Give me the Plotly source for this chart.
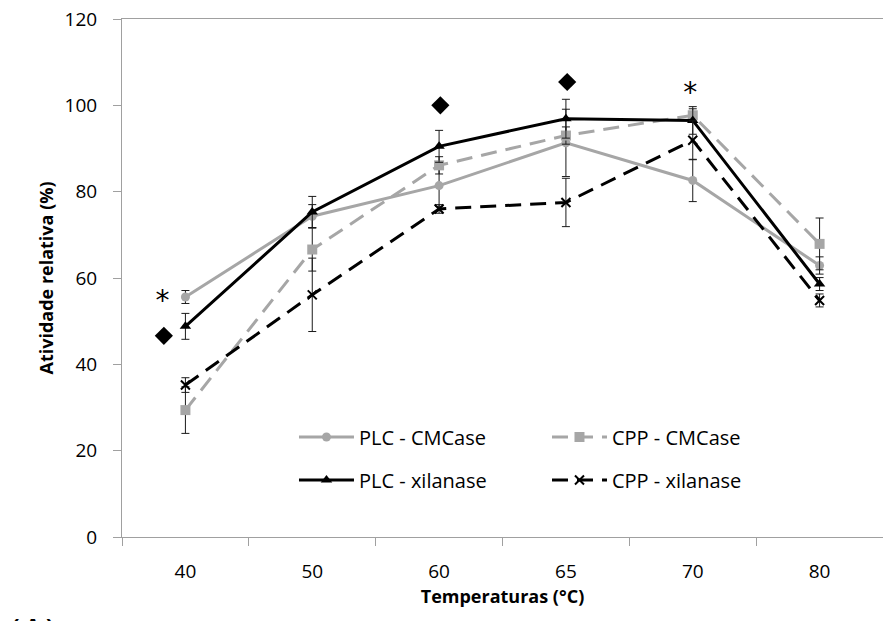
import plotly.graph_objects as go

# ---- data ----
temps = ["40", "50", "60", "65", "70", "80"]
plc_cmc = [55.6, 74.3, 81.4, 91.3, 82.6, 62.9]
plc_cmc_err = [1.5, 2.7, 4.8, 7.8, 4.9, 2.0]
cpp_cmc = [29.4, 66.6, 86.1, 93.0, 97.7, 67.9]
cpp_cmc_err = [5.4, 5.0, 2.0, 2.0, 1.5, 6.0]
plc_xil = [48.8, 75.3, 90.5, 96.9, 96.5, 58.6]
plc_xil_err = [3.0, 3.6, 3.7, 4.5, 3.2, 1.5]
cpp_xil = [35.2, 56.1, 76.0, 77.5, 91.9, 54.8]
cpp_xil_err = [1.7, 8.5, 1.0, 5.6, 4.5, 1.5]

# significance marks (category index position, value)
star_x = [-0.18, 3.98]
star_y = [54.3, 102.4]
diamond_x = [-0.17, 2.01, 3.01]
diamond_y = [46.6, 100.0, 105.4]

xi = list(range(len(temps)))
GRAY = "#A6A6A6"
FONT = "Open Sans"

fig = go.Figure()

def add(name, y, err, color, dash, symbol, msize, legend, mline=None):
    fig.add_trace(go.Scatter(
        x=xi, y=y, name=name, mode="lines+markers",
        line=dict(color=color, width=3, dash=dash),
        marker=dict(symbol=symbol, size=msize, color=color,
                    line=mline if mline else dict(width=0)),
        error_y=dict(type="data", array=err, visible=True,
                     color="#1a1a1a", thickness=1, width=4),
        legend=legend,
    ))

add("PLC - CMCase", plc_cmc, plc_cmc_err, GRAY, "solid", "circle", 9, "legend")
add("CPP - CMCase", cpp_cmc, cpp_cmc_err, GRAY, "16px,9px", "square", 10, "legend")
add("PLC - xilanase", plc_xil, plc_xil_err, "black", "solid", "triangle-up", 10, "legend2")
add("CPP - xilanase", cpp_xil, cpp_xil_err, "black", "16px,9px", "x-thin", 9, "legend2",
    mline=dict(color="black", width=2))

fig.add_trace(go.Scatter(
    x=star_x, y=star_y, mode="text", text=["*"] * len(star_x),
    textfont=dict(family="DejaVu Sans", size=28, color="black"),
    textposition="middle center", showlegend=False, hoverinfo="skip"))
fig.add_trace(go.Scatter(
    x=diamond_x, y=diamond_y, mode="markers",
    marker=dict(symbol="diamond", size=14, color="black"),
    showlegend=False, hoverinfo="skip"))

axis_color = "#A0A0A0"
fig.update_layout(
    width=883, height=621,
    margin=dict(l=122, r=0, t=19, b=84),
    paper_bgcolor="white", plot_bgcolor="white",
    font=dict(family=FONT, size=19, color="black"),
    xaxis=dict(
        range=[-0.5, 5.5], tickmode="array", tickvals=xi, ticktext=temps,
        ticks="", showgrid=False, zeroline=False,
        showline=True, linecolor=axis_color, linewidth=1, mirror=True,
        ticklabelstandoff=17,
        minor=dict(tickmode="array", tickvals=[i - 0.5 for i in range(len(temps) + 1)],
                   ticks="outside", ticklen=8, tickcolor=axis_color, tickwidth=1,
                   showgrid=False),
        title=dict(text="<b>Temperaturas (°C)</b>", font=dict(size=18), standoff=0),
    ),
    yaxis=dict(
        range=[0, 120], dtick=20, ticks="outside", ticklen=8,
        tickcolor=axis_color, showgrid=False, zeroline=False,
        showline=True, linecolor=axis_color, linewidth=1,
        ticklabelstandoff=12,
        title=dict(text="<b>Atividade relativa (%)</b>", font=dict(size=18), standoff=6),
    ),
    legend=dict(orientation="h", x=0.226, y=0.193, xanchor="left", yanchor="middle",
                entrywidth=183, entrywidthmode="pixels",
                font=dict(size=20), bgcolor="rgba(0,0,0,0)", itemwidth=55),
    legend2=dict(orientation="h", x=0.226, y=0.11, xanchor="left", yanchor="middle",
                 entrywidth=183, entrywidthmode="pixels",
                 font=dict(size=20), bgcolor="rgba(0,0,0,0)", itemwidth=55),
    annotations=[dict(text="<b>( A )</b>", xref="paper", yref="paper",
                      x=-0.117, y=-0.17, xanchor="center", yanchor="middle",
                      showarrow=False, font=dict(size=22))],
)

fig.write_html("out.html")
